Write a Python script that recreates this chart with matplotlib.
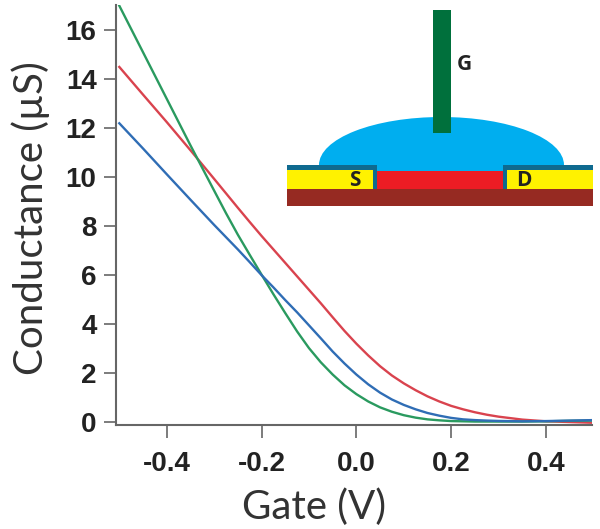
import matplotlib
matplotlib.use('Agg')
import matplotlib.pyplot as plt
from matplotlib.patches import Rectangle, Ellipse

plt.rcParams['font.family'] = ['Lato', 'DejaVu Sans']

gate = [-0.5, -0.45, -0.4, -0.35, -0.3, -0.275, -0.25, -0.225, -0.2, -0.175, -0.15, -0.125, -0.1, -0.075, -0.05, -0.025,
        0.0, 0.025, 0.05, 0.075, 0.1, 0.125, 0.15, 0.175, 0.2, 0.225, 0.25, 0.275, 0.3, 0.35, 0.4, 0.45, 0.5]
red = [14.5, 13.37, 12.25, 11.1, 9.93, 9.34, 8.75, 8.17, 7.6, 7.05, 6.5, 5.95, 5.4, 4.85, 4.28, 3.72,
       3.2, 2.72, 2.28, 1.9, 1.58, 1.3, 1.05, 0.84, 0.66, 0.52, 0.4, 0.3, 0.22, 0.1, 0.03, 0.0, -0.03]
blue = [12.2, 11.17, 10.12, 9.08, 8.05, 7.55, 7.05, 6.53, 6.0, 5.5, 4.98, 4.48, 3.95, 3.42, 2.88, 2.39,
        1.94, 1.54, 1.2, 0.92, 0.7, 0.52, 0.37, 0.26, 0.17, 0.11, 0.08, 0.06, 0.045, 0.03, 0.04, 0.06, 0.08]
green = [17.0, 15.1, 13.2, 11.3, 9.45, 8.53, 7.65, 6.83, 6.02, 5.22, 4.45, 3.7, 3.02, 2.44, 1.94, 1.5,
         1.14, 0.84, 0.6, 0.42, 0.28, 0.18, 0.11, 0.07, 0.04, 0.03, 0.02, 0.02, 0.02, 0.02, 0.03, 0.05, 0.06]
xticks = [-0.4, -0.2, 0.0, 0.2, 0.4]
yticks = [0, 2, 4, 6, 8, 10, 12, 14, 16]

fig = plt.figure(figsize=(6, 5.29), dpi=100)
ax = fig.add_axes([116/600, 1-424.5/529, 476/600, 419.5/529])
ax.plot(gate, red, color='#d9434e', lw=1.7)
ax.plot(gate, green, color='#2a9a5f', lw=1.7)
ax.plot(gate, blue, color='#2f6db5', lw=1.7)
ax.set_xlim(-0.507, 0.497)
ax.set_ylim(-0.1, 17.03)
ax.set_xticks(xticks)
ax.set_xticklabels(['%.1f' % v for v in xticks])
ax.set_yticks(yticks)
for s in ['top', 'right']:
    ax.spines[s].set_visible(False)
for s in ['left', 'bottom']:
    ax.spines[s].set_color('#666666')
    ax.spines[s].set_linewidth(1.5)
ax.tick_params(axis='x', length=9, width=1.2, color='#666666', pad=10)
ax.tick_params(axis='y', length=9, width=1.2, color='#666666', pad=5)
for t in ax.get_xticklabels() + ax.get_yticklabels():
    t.set_family('Liberation Sans')
    t.set_fontweight('bold')
    t.set_fontsize(20)
    t.set_color('#222222')
fig.text(314/600, 1-507/529, 'Gate (V)', fontsize=29, color='#333333', ha='center', va='center')
fig.text(31/600, 1-218/529, 'Conductance (µS)', fontsize=29, color='#333333', ha='center', va='center', rotation=90)

# device sketch, in pixels of the figure
d = fig.add_axes([0, 0, 1, 1], facecolor='none')
d.set_xlim(0, 600)
d.set_ylim(529, 0)
d.axis('off')
d.add_patch(Ellipse((441.5, 165), 245, 96, color='#00aeef', lw=0))
d.add_patch(Rectangle((300, 165), 280, 50, color='white', lw=0))
d.add_patch(Rectangle((377, 150), 126, 21, color='#00aeef', lw=0))
d.add_patch(Rectangle((377, 171), 126, 18, color='#ed1c24', lw=0))
d.add_patch(Rectangle((287, 165), 90, 24, color='#0f6a8f', lw=0))
d.add_patch(Rectangle((503, 165), 90, 24, color='#0f6a8f', lw=0))
d.add_patch(Rectangle((287, 170), 86, 19, color='#fff200', lw=0))
d.add_patch(Rectangle((507, 170), 86, 19, color='#fff200', lw=0))
d.add_patch(Rectangle((287, 189), 306, 17, color='#962a22', lw=0))
d.add_patch(Rectangle((433, 10), 18, 123, color='#00703c', lw=0))
d.text(464, 65, 'G', fontsize=15, family='Open Sans', fontweight='bold', color='#222222', ha='center', va='center')
d.text(355, 181, 'S', fontsize=15, family='Open Sans', fontweight='bold', color='#222222', ha='center', va='center')
d.text(524, 180, 'D', fontsize=15, family='Open Sans', fontweight='bold', color='#222222', ha='center', va='center')

fig.savefig('out.png', dpi=100)
